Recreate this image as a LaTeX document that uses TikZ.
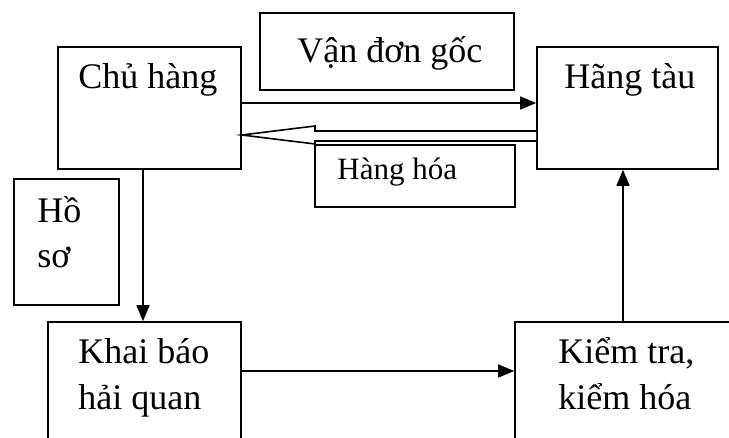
\documentclass[tikz,border=0pt]{standalone}
\usepackage{fontspec}
\setmainfont{Liberation Serif}
\usetikzlibrary{arrows.meta}

\tikzset{
  box/.style={draw, line width=0.8pt, inner sep=0pt},
  txt/.style={anchor=base west, inner sep=0pt, font=\fontsize{18}{22}\selectfont},
  arr/.style={line width=0.8pt, -{Triangle[length=8pt,width=6.5pt]}},
  hollow/.style={draw, fill=white, line width=0.8pt, line join=miter}
}

\begin{document}
\begin{tikzpicture}[x=0.5pt,y=-0.5pt]

\useasboundingbox (0,0) rectangle (729,438);
\clip (0,0) rectangle (729,438);

% boxes
\node[box, minimum width=91.5pt, minimum height=61pt] (chu) at (149.5,108) {};
\node[box, minimum width=127pt, minimum height=38.5pt] (van) at (387,51.5) {};
\node[box, minimum width=90.5pt, minimum height=61pt] (hang) at (627.5,108) {};
\node[box, minimum width=100pt, minimum height=31pt] (hoa) at (415,176) {};
\node[box, minimum width=52.5pt, minimum height=63pt] (hoso) at (66.5,242) {};
\node[box, minimum width=96.5pt, minimum height=74pt] (khai) at (144.5,396) {};
\node[box, minimum width=122.5pt, minimum height=74pt] (kiem) at (637.5,396) {};

% texts
\node[txt] (chutxt) at (78,89) {Chủ hàng};
\node[txt] (vantxt) at (297,63) {Vận đơn gốc};
\node[txt] (hangtxt) at (564,89) {Hãng tàu};
\node[txt, font=\fontsize{15.5}{19}\selectfont] (hoatxt) at (337,180) {Hàng hóa};
\node[txt] (hotxt) at (37,223) {Hồ};
\node[txt] (sotxt) at (37,268) {sơ};
\node[txt] (khaitxt) at (78,364) {Khai báo};
\node[txt] (haitxt) at (78,410) {hải quan};
\node[txt] (kiemtxt) at (558,364) {Kiểm tra,};
\node[txt] (hoatxt2) at (558,410) {kiểm hóa};

% arrows
\draw[arr] ([yshift=2.5pt]chu.east) -- ([yshift=2.5pt]hang.west);
\draw[hollow] (hang.west |- 0,131) -- (315,131) -- (315,126) -- (chu.east |- 0,135)
  -- (315,144) -- (315,141) -- (hang.west |- 0,141);
\draw[arr] ([xshift=-3.25pt]chu.south) -- ([xshift=-3.25pt]chu.south |- khai.north);
\draw[arr] ([yshift=12.5pt]khai.east) -- ([yshift=12.5pt]khai.east -| kiem.west);
\draw[arr] ([xshift=-2.25pt]hang.south |- kiem.north) -- ([xshift=-2.25pt]hang.south);

\end{tikzpicture}
\end{document}
